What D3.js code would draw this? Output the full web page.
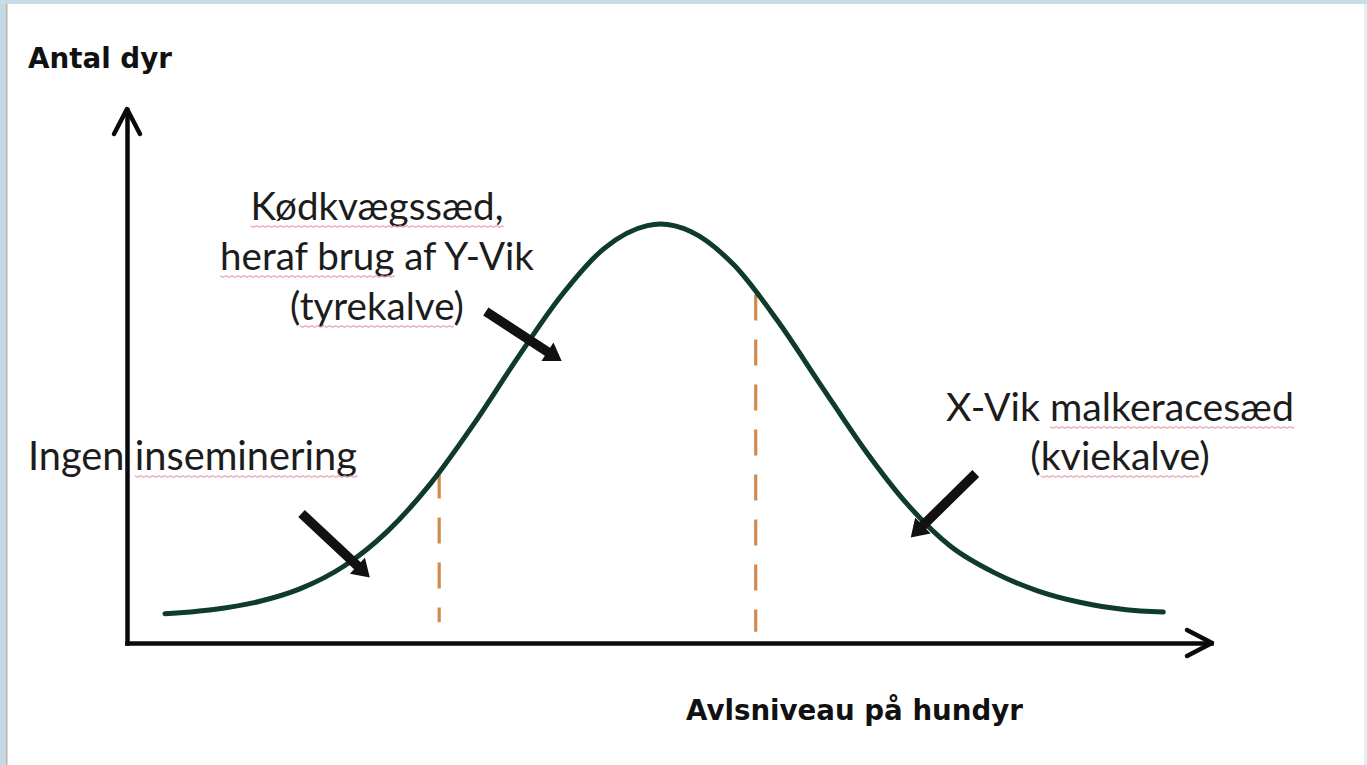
<!DOCTYPE html>
<html><head><meta charset="utf-8">
<script src="https://cdn.jsdelivr.net/npm/d3@7"></script>
<style>html,body{margin:0;padding:0;background:#fff;overflow:hidden}</style>
</head><body>
<svg id="c" width="1367" height="765"></svg>
<script>
// ---- data ----
const curveX = [3.5, 8, 12, 16, 20, 24, 28, 32, 36, 40, 44, 48, 49.2, 52, 56, 60, 64, 68, 72, 76, 80, 84, 88, 92, 95.6];
const curveY = [5.5, 6.3, 7.7, 10.2, 14.4, 20.9, 29.9, 41.1, 53.4, 65.0, 74.0, 78.3, 78.6, 77.2, 70.9, 60.5, 48.4, 36.4, 26.0, 18.1, 13.2, 9.8, 7.6, 6.3, 5.8];
const cutX = [28.8, 58.0];
const cutTop = [32.0, 65.4];
const cutBottom = [3.9, 2.1];
const arrowTail = [[16.1, 24.3], [33.1, 62.2], [78.3, 31.8]];
const arrowTip = [[22.4, 12.3], [40.1, 52.9], [72.3, 19.8]];
const yTitle = "Antal dyr";
const xTitle = "Avlsniveau på hundyr";
const labelNoInsem = ["Ingen inseminering"];
const labelBeef = ["Kødkvægssæd,", "heraf brug af Y-Vik", "(tyrekalve)"];
const labelDairy = ["X-Vik malkeracesæd", "(kviekalve)"];

// ---- drawing ----
const svg = d3.select("#c");
const W = 1367, H = 765;

// background / frame
svg.append("rect").attr("width", W).attr("height", H).attr("fill", "#ffffff");
svg.append("rect").attr("x", 0).attr("y", 0).attr("width", 6).attr("height", H).attr("fill", "#c5d8e4");
svg.append("rect").attr("x", 0).attr("y", 0).attr("width", W).attr("height", 4).attr("fill", "#c9dbe6");
svg.append("rect").attr("x", 6).attr("y", 4).attr("width", 1.5).attr("height", H).attr("fill", "#b9b3aa");
svg.append("rect").attr("x", W - 3).attr("y", 4).attr("width", 3).attr("height", H).attr("fill", "#e4eef3");

const x = d3.scaleLinear().domain([0, 100]).range([127, 1211]);
const y = d3.scaleLinear().domain([0, 100]).range([643, 110]);

// axes
const gx = svg.append("g").attr("transform", `translate(0,${y(0)})`)
  .call(d3.axisBottom(x).ticks(0).tickSizeOuter(0));
const gy = svg.append("g").attr("transform", `translate(${x(0)},0)`)
  .call(d3.axisLeft(y).ticks(0).tickSizeOuter(0));
[gx, gy].forEach(g => g.select(".domain")
  .attr("stroke", "#0a0a0a").attr("stroke-width", 4.5).attr("stroke-linecap", "square"));

// axis arrowheads (open chevrons)
const xe = x(100), ye = y(100);
svg.append("path")
  .attr("d", `M${xe - 24},${y(0) - 13}L${xe + 1},${y(0)}L${xe - 24},${y(0) + 13}`)
  .attr("fill", "none").attr("stroke", "#0a0a0a").attr("stroke-width", 4.5)
  .attr("stroke-linecap", "round").attr("stroke-linejoin", "round");
svg.append("path")
  .attr("d", `M${x(0) - 13},${ye + 24}L${x(0)},${ye - 1}L${x(0) + 13},${ye + 24}`)
  .attr("fill", "none").attr("stroke", "#0a0a0a").attr("stroke-width", 4.5)
  .attr("stroke-linecap", "round").attr("stroke-linejoin", "round");

// dashed cutoff lines
svg.selectAll("line.cut").data(cutX).join("line").attr("class", "cut")
  .attr("x1", d => x(d)).attr("x2", d => x(d))
  .attr("y1", (d, i) => y(cutTop[i])).attr("y2", (d, i) => y(cutBottom[i]))
  .attr("stroke", "#cf8a4e").attr("stroke-width", 3.2)
  .attr("stroke-dasharray", "26 19");

// bell curve
const pts = curveX.map((d, i) => [d, curveY[i]]);
svg.append("path").datum(pts)
  .attr("d", d3.line().x(d => x(d[0])).y(d => y(d[1])).curve(d3.curveMonotoneX))
  .attr("fill", "none").attr("stroke", "#0f3b2b").attr("stroke-width", 5)
  .attr("stroke-linecap", "round");

// annotation arrows
arrowTail.forEach((t, i) => {
  const p0 = [x(t[0]), y(t[1])], p1 = [x(arrowTip[i][0]), y(arrowTip[i][1])];
  const dx = p1[0] - p0[0], dy = p1[1] - p0[1], L = Math.hypot(dx, dy);
  const u = [dx / L, dy / L], n = [-u[1], u[0]];
  const sw = 4.8, hl = 17, hw = 11;
  const b = [p1[0] - u[0] * hl, p1[1] - u[1] * hl];
  const P = (p, k) => `${p[0] + n[0] * k},${p[1] + n[1] * k}`;
  svg.append("polygon")
    .attr("points", [P(p0, sw), P(b, sw), P(b, hw), `${p1[0]},${p1[1]}`, P(b, -hw), P(b, -sw), P(p0, -sw)].join(" "))
    .attr("fill", "#111");
});

// text helpers
function label(lines, opts) {
  const g = svg.append("g");
  const els = lines.map((s, i) => g.append("text")
    .attr("x", opts.x).attr("y", opts.baselines[i])
    .attr("text-anchor", opts.anchor || "start")
    .attr("font-family", opts.font).attr("font-weight", opts.weight || "normal")
    .attr("font-size", 30).attr("fill", opts.color || "#1c1c1c").text(s));
  let mx = 0, mi = 0;
  els.forEach((e, i) => { const w = e.node().getComputedTextLength(); if (w > mx) { mx = w; mi = i; } });
  const fs = 30 * opts.width / mx;
  els.forEach(e => e.attr("font-size", fs));
  (opts.underline || []).forEach(([li, st, len]) => {
    const node = els[li].node();
    const sx = node.getStartPositionOfChar(st).x;
    const w = node.getSubStringLength(st, len);
    g.append("path")
      .attr("d", d3.range(0, Math.ceil(w / 3) + 1).map((k, j) => `${j ? "L" : "M"}${sx + Math.min(k * 3, w)},${opts.baselines[li] + 6 + (k % 2 ? 1.2 : -0.2)}`).join(""))
      .attr("fill", "none").attr("stroke", "#e6a3b3").attr("stroke-width", 1.3).attr("opacity", 0.85);
  });
  return els;
}

const bold = "'DejaVu Sans', Verdana, sans-serif";
const reg = "Lato, 'Open Sans', sans-serif";

label([yTitle], {x: 28, baselines: [68], font: bold, weight: "bold", width: 144, color: "#111"});
label([xTitle], {x: 686, baselines: [720], font: bold, weight: "bold", width: 337, color: "#111"});
label(labelNoInsem, {x: 28, baselines: [470], font: reg, width: 329, underline: [[0, 6, 12]]});
label(labelBeef, {x: 377, anchor: "middle", baselines: [220, 270, 320], font: reg, width: 314,
  underline: [[0, 0, 12], [1, 0, 10], [2, 1, 9]]});
label(labelDairy, {x: 1120, anchor: "middle", baselines: [421, 470], font: reg, width: 348,
  underline: [[0, 6, 12], [1, 1, 9]]});
</script>
</body></html>
